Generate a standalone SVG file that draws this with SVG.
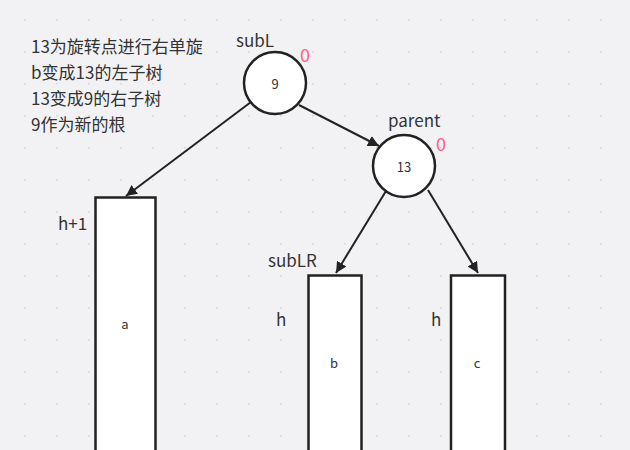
<svg xmlns="http://www.w3.org/2000/svg" width="630" height="450" viewBox="0 0 630 450">
<defs>
<pattern id="grid" x="24" y="19" width="32" height="32" patternUnits="userSpaceOnUse">
<rect x="0" y="0" width="1.5" height="1.5" fill="#d4d4d9"/>
</pattern>
<marker id="arr" viewBox="0 0 10 10" refX="10" refY="5" markerWidth="11" markerHeight="11" markerUnits="userSpaceOnUse" orient="auto">
<path d="M0,0 L10,5 L0,10 z" fill="#222"/>
</marker>
<style>
.t{font-family:"Noto Sans CJK SC","Noto Sans",sans-serif;fill:#333;}
.lbl{font-size:17px;}
.note{font-size:17px;}
.inner{font-size:13px;text-anchor:middle;dominant-baseline:central;}
.bf{font-size:18px;fill:#ff5f85;}
.node{fill:#fff;stroke:#222;stroke-width:2.5;}
.edge{stroke:#222;stroke-width:2;fill:none;marker-end:url(#arr);}
</style>
</defs>
<rect width="630" height="450" fill="#f2f2f5"/>
<rect width="630" height="450" fill="url(#grid)"/>
<g id="note">
<text class="t note" x="31" y="53">13为旋转点进行右单旋</text>
<text class="t note" x="31" y="79">b变成13的左子树</text>
<text class="t note" x="31" y="105">13变成9的右子树</text>
<text class="t note" x="31" y="131">9作为新的根</text>
</g>
<g id="connectors">
<line class="edge" x1="251" y1="102" x2="126" y2="196"/>
<line class="edge" x1="299" y1="105" x2="379" y2="146"/>
<line class="edge" x1="386" y1="191" x2="336" y2="273"/>
<line class="edge" x1="428" y1="190" x2="478" y2="273"/>
</g>
<g id="subL">
<circle class="node" cx="275" cy="83" r="31"/>
<text class="t inner" x="275" y="83">9</text>
<text class="t lbl" x="236" y="47">subL</text>
<text class="t bf" x="300" y="62">0</text>
</g>
<g id="parent">
<circle class="node" cx="404" cy="166" r="31"/>
<text class="t inner" x="404" y="166">13</text>
<text class="t lbl" x="388" y="127">parent</text>
<text class="t bf" x="436" y="151">0</text>
</g>
<g id="a">
<rect class="node" x="95.5" y="197.5" width="60" height="270"/>
<text class="t inner" x="125" y="323">a</text>
<text class="t lbl" x="58" y="230">h+1</text>
</g>
<g id="b">
<rect class="node" x="308.5" y="275.5" width="53" height="190"/>
<text class="t inner" x="334" y="362">b</text>
<text class="t lbl" x="268" y="267">subLR</text>
<text class="t lbl" x="276" y="326">h</text>
</g>
<g id="c">
<rect class="node" x="451" y="275.5" width="54" height="190"/>
<text class="t inner" x="477" y="362">c</text>
<text class="t lbl" x="431" y="326">h</text>
</g>
</svg>
